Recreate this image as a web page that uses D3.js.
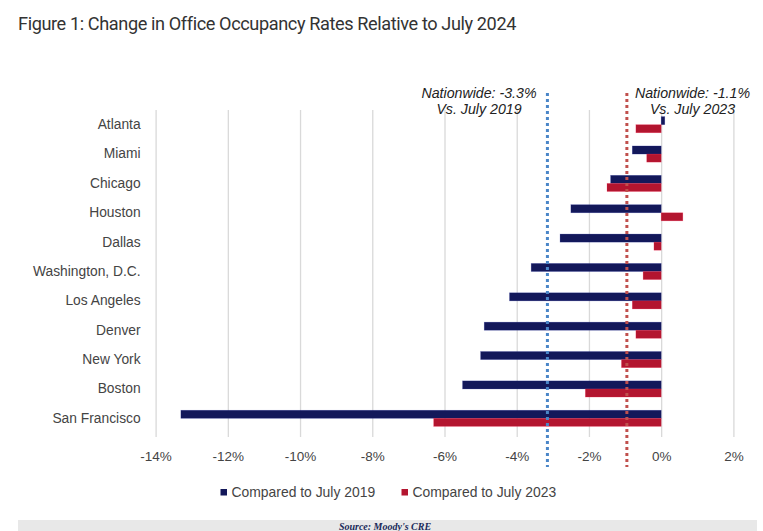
<!DOCTYPE html>
<html>
<head>
<meta charset="utf-8">
<script src="https://cdn.jsdelivr.net/npm/d3@7"></script>
<style>
  html, body { margin: 0; padding: 0; background: #fff; }
  svg { display: block; }
</style>
</head>
<body>
<svg id="chart" width="763" height="531"></svg>
<script>
// ---- data ----
const cities = ["Atlanta", "Miami", "Chicago", "Houston", "Dallas", "Washington, D.C.",
  "Los Angeles", "Denver", "New York", "Boston", "San Francisco"];
const vs2019 = [0.1, -0.8, -1.4, -2.5, -2.8, -3.6, -4.2, -4.9, -5.0, -5.5, -13.3];
const vs2023 = [-0.7, -0.4, -1.5, 0.6, -0.2, -0.5, -0.8, -0.7, -1.1, -2.1, -6.3];
const seriesNames = ["Compared to July 2019", "Compared to July 2023"];
const xTicks = [-14, -12, -10, -8, -6, -4, -2, 0, 2];
const refPositions = [-3.15, -0.95];
const refLabels = [["Nationwide: -3.3%", "Vs. July 2019"], ["Nationwide: -1.1%", "Vs. July 2023"]];
const titleText = "Figure 1: Change in Office Occupancy Rates Relative to July 2024";
const sourceText = "Source: Moody's CRE";

// ---- layout ----
const colors = ["#13185a", "#b3152f"];
const refColors = ["#4a86c8", "#c0504d"];
const svg = d3.select("#chart");
const plot = { left: 155.6, right: 733.4, top: 110, bottom: 433 };

const x = d3.scaleLinear().domain([-14, 2]).range([plot.left, plot.right]);
const y = d3.scaleBand().domain(cities).range([plot.top, plot.bottom])
  .paddingInner(0.45).paddingOuter(0.225);
const ySub = d3.scaleBand().domain([0, 1]).range([0, y.bandwidth()]);

// title
svg.append("text")
  .attr("x", 18).attr("y", 30)
  .attr("font-family", "Roboto, 'Liberation Sans', sans-serif")
  .attr("font-size", 18.3)
  .attr("fill", "#333")
  .attr("letter-spacing", -0.4)
  .attr("textLength", 498)
  .attr("lengthAdjust", "spacingAndGlyphs")
  .text(titleText);

// gridlines + tick labels via axis
const xAxis = d3.axisBottom(x).tickValues(xTicks)
  .tickSize(-(plot.bottom + 4 - plot.top))
  .tickFormat(d => d + "%");
const gx = svg.append("g")
  .attr("transform", `translate(0,${plot.bottom + 4})`)
  .call(xAxis);
gx.select(".domain").remove();
gx.selectAll(".tick line").attr("stroke", "#d9d9d9").attr("stroke-width", 1.3);
gx.selectAll(".tick text")
  .attr("font-family", "'Liberation Sans', Arial, sans-serif")
  .attr("font-size", 13.5)
  .attr("fill", "#444")
  .attr("y", 14);

// category labels
const yAxis = d3.axisLeft(y).tickSize(0).tickPadding(0);
const gy = svg.append("g").attr("transform", `translate(${plot.left - 15},0)`).call(yAxis);
gy.select(".domain").remove();
gy.selectAll(".tick text")
  .attr("font-family", "'Liberation Sans', Arial, sans-serif")
  .attr("font-size", 13.8)
  .attr("fill", "#444");

// bars
const rows = cities.map((c, i) => ({ city: c, vals: [vs2019[i], vs2023[i]] }));
const g = svg.append("g");
rows.forEach(r => {
  r.vals.forEach((v, k) => {
    g.append("rect")
      .attr("x", x(Math.min(0, v)))
      .attr("y", y(r.city) + ySub(k))
      .attr("width", Math.abs(x(v) - x(0)))
      .attr("height", ySub.bandwidth())
      .attr("fill", colors[k])
      .attr("stroke", d3.color(colors[k]).brighter(1.5))
      .attr("stroke-opacity", 0.35)
      .attr("stroke-width", 0.6);
  });
});

// reference dotted lines
refPositions.forEach((p, i) => {
  svg.append("line")
    .attr("x1", x(p)).attr("x2", x(p))
    .attr("y1", 93).attr("y2", 467)
    .attr("stroke", refColors[i])
    .attr("stroke-width", 3)
    .attr("stroke-dasharray", "3,3");
});

// annotations
const annX = [479, 692.5];
refLabels.forEach((lines, i) => {
  lines.forEach((t, j) => {
    svg.append("text")
      .attr("x", annX[i]).attr("y", 98 + j * 16)
      .attr("text-anchor", "middle")
      .attr("font-family", "'Liberation Sans', Arial, sans-serif")
      .attr("font-style", "italic")
      .attr("font-size", 14.2)
      .attr("fill", "#222")
      .text(t);
  });
});

// legend
const legendX = [220.5, 401.5];
seriesNames.forEach((s, i) => {
  svg.append("rect")
    .attr("x", legendX[i]).attr("y", 489)
    .attr("width", 6.5).attr("height", 6.5)
    .attr("fill", colors[i]);
  svg.append("text")
    .attr("x", legendX[i] + 11).attr("y", 497)
    .attr("font-family", "'Liberation Sans', Arial, sans-serif")
    .attr("font-size", 13.9)
    .attr("fill", "#444")
    .text(s);
});

// source band
svg.append("rect")
  .attr("x", 18).attr("y", 520).attr("width", 739).attr("height", 11)
  .attr("fill", "#e8e8e8");
svg.append("text")
  .attr("x", 385).attr("y", 529.5)
  .attr("text-anchor", "middle")
  .attr("font-family", "'Liberation Serif', serif")
  .attr("font-style", "italic")
  .attr("font-weight", "bold")
  .attr("font-size", 10)
  .attr("fill", "#1a2a5a")
  .text(sourceText);
</script>
</body>
</html>
